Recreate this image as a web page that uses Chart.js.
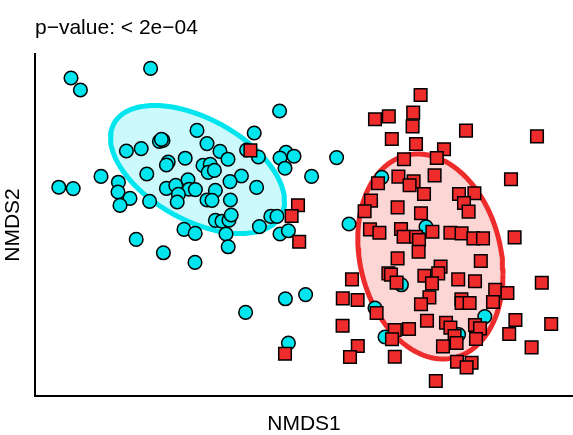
<!DOCTYPE html>
<html>
<head>
<meta charset="utf-8">
<script src="https://cdn.jsdelivr.net/npm/chart.js@4/dist/chart.umd.min.js"></script>
<style>
html,body{margin:0;padding:0;background:#fff;}
#wrap{width:573px;height:435px;position:relative;}
</style>
</head>
<body>
<div id="wrap"><canvas id="c" width="573" height="435"></canvas></div>
<script>
// Group A (cyan circles): NMDS1 values
const cyanX = [-1.145,-1.098,-0.747,-0.102,-0.515,-0.229,-0.703,-0.685,-0.693,-0.465,-0.868,-0.794,-0.400,-0.360,-0.267,-0.208,-0.070,-0.030,-0.100,-0.075,0.183,-0.574,-0.659,-0.668,-0.485,-0.449,-0.459,-0.428,-0.995,-0.766,-0.293,0.058,-0.350,-1.206,-1.134,-0.908,-0.910,-0.850,-0.900,-0.752,-0.668,-0.621,-0.560,-0.554,-0.523,-0.608,-0.614,-0.423,-0.465,-0.440,-0.348,-0.217,-0.423,-0.390,-0.355,-0.344,-0.146,-0.115,-0.203,-0.580,-0.524,-0.370,-0.359,-0.100,-0.058,-0.819,-0.683,-0.525,0.245,0.409,0.630,0.507,-0.073,0.028,-0.272,-0.058,0.375,0.425,0.793,0.924];
// Group A (cyan circles): NMDS2 values
const cyanY = [0.735,0.675,0.783,0.570,0.473,0.460,0.418,0.423,0.428,0.407,0.370,0.382,0.368,0.329,0.375,0.340,0.363,0.344,0.335,0.284,0.337,0.334,0.315,0.300,0.298,0.303,0.263,0.273,0.243,0.255,0.245,0.243,0.217,0.189,0.182,0.214,0.165,0.133,0.098,0.118,0.183,0.198,0.226,0.179,0.177,0.153,0.115,0.173,0.125,0.123,0.125,0.188,0.023,0.019,0.024,0.050,0.043,0.043,-0.008,-0.022,-0.042,-0.045,-0.109,-0.045,-0.029,-0.072,-0.139,-0.187,0.005,0.238,-0.009,-0.299,-0.369,-0.348,-0.437,-0.590,-0.415,-0.560,-0.548,-0.458];
// Group B (red squares): NMDS1 values
const redX = [0.603,0.375,0.444,0.566,0.563,0.830,1.185,0.459,0.580,0.720,0.520,0.684,-0.248,0.492,0.568,0.673,0.548,0.390,0.620,1.055,0.795,0.872,0.820,0.843,0.355,0.323,0.488,0.605,-0.010,-0.042,-0.004,0.350,0.397,0.505,0.518,0.580,0.595,0.662,0.752,0.808,0.867,0.915,1.073,0.593,0.488,0.904,0.703,0.691,0.622,0.442,0.455,0.483,0.660,0.791,0.875,0.260,1.209,0.976,1.037,0.647,0.605,0.807,0.808,0.848,0.965,0.214,0.288,0.383,0.635,0.730,0.752,0.773,0.783,0.875,0.900,0.880,1.077,1.256,0.213,0.474,0.545,0.460,1.046,0.715,0.289,0.250,0.474,1.158,-0.075,0.785,0.858,0.833,0.679];
// Group B (red squares): NMDS2 values
const redY = [0.650,0.529,0.543,0.562,0.493,0.472,0.443,0.430,0.405,0.379,0.329,0.335,0.373,0.242,0.218,0.248,0.199,0.209,0.155,0.229,0.155,0.159,0.110,0.067,0.122,0.069,0.088,0.059,0.099,0.045,-0.084,-0.022,-0.039,-0.020,-0.059,-0.059,-0.075,-0.034,-0.039,-0.042,-0.067,-0.067,-0.062,-0.134,-0.167,-0.180,-0.208,-0.242,-0.254,-0.242,-0.248,-0.288,-0.292,-0.272,-0.281,-0.272,-0.289,-0.324,-0.340,-0.362,-0.396,-0.372,-0.390,-0.390,-0.385,-0.367,-0.375,-0.440,-0.479,-0.489,-0.513,-0.555,-0.590,-0.500,-0.517,-0.570,-0.475,-0.495,-0.504,-0.525,-0.520,-0.571,-0.545,-0.607,-0.605,-0.660,-0.659,-0.612,-0.644,-0.684,-0.689,-0.712,-0.780];
// Confidence ellipses: centre [NMDS1, NMDS2] and covariance [sxx, sxy, syy]
const cyanEllipseCenter = [-0.5125, 0.2775];
const cyanEllipseCov = [0.1892, -0.06875, 0.1024];
const redEllipseCenter = [0.652, -0.1575];
const redEllipseCov = [0.1318, -0.0325, 0.2627];
// Axis ranges
const xRange = [-1.325, 1.365];
const yRange = [-0.855, 0.855];
const titleText = 'p\u2212value: < 2e\u221204';
const xTitle = 'NMDS1';
const yTitle = 'NMDS2';

function toPoints(xs, ys) { return xs.map((x, i) => ({x: x, y: ys[i]})); }
function ellipsePoints(center, cov, n) {
  const sxx = cov[0], sxy = cov[1], syy = cov[2];
  const l11 = Math.sqrt(sxx), l21 = sxy / l11, l22 = Math.sqrt(syy - l21 * l21);
  const pts = [];
  for (let i = 0; i <= n; i++) {
    const t = 2 * Math.PI * i / n, c = Math.cos(t), s = Math.sin(t);
    pts.push({x: center[0] + l11 * c, y: center[1] + l21 * c + l22 * s});
  }
  return pts;
}

const CYAN = '#00E5EE';
const RED = '#EE2C2C';
const FONT = '"Liberation Sans", Arial, Helvetica, sans-serif';

new Chart(document.getElementById('c'), {
  type: 'scatter',
  data: {
    datasets: [
      {
        label: 'B', data: toPoints(redX, redY), order: 0,
        pointStyle: 'rect', pointRadius: 8.9, pointHoverRadius: 8.9,
        backgroundColor: RED, borderColor: '#000', borderWidth: 1.5
      },
      {
        label: 'A', data: toPoints(cyanX, cyanY), order: 1,
        pointStyle: 'circle', pointRadius: 6.8, pointHoverRadius: 6.8,
        backgroundColor: CYAN, borderColor: '#000', borderWidth: 1.5
      },
      {
        label: 'ellB', data: ellipsePoints(redEllipseCenter, redEllipseCov, 120), order: 2,
        showLine: true, pointRadius: 0, borderColor: RED, borderWidth: 5, tension: 0,
        fill: 'shape', backgroundColor: 'rgba(238,44,44,0.2)', borderJoinStyle: 'round'
      },
      {
        label: 'ellA', data: ellipsePoints(cyanEllipseCenter, cyanEllipseCov, 120), order: 3,
        showLine: true, pointRadius: 0, borderColor: CYAN, borderWidth: 5, tension: 0,
        fill: 'shape', backgroundColor: 'rgba(0,229,238,0.2)', borderJoinStyle: 'round'
      }
    ]
  },
  options: {
    responsive: false,
    animation: false,
    events: [],
    layout: {padding: 0, autoPadding: false},
    plugins: {
      legend: {display: false},
      tooltip: {enabled: false},
      title: {
        display: true, text: titleText, align: 'start', fullSize: false,
        color: '#000', font: {family: FONT, size: 21, weight: 'normal', lineHeight: 1.2},
        padding: {top: 15.6, bottom: 13.2}
      }
    },
    scales: {
      x: {
        type: 'linear', min: xRange[0], max: xRange[1],
        grid: {display: false},
        border: {display: true, color: '#000', width: 2},
        ticks: {display: false},
        title: {display: true, text: xTitle, color: '#000', padding: {top: 0, bottom: 0},
          font: {family: FONT, size: 21, lineHeight: 1}},
        afterFit: (s) => { s.height = 39; }
      },
      y: {
        type: 'linear', min: yRange[0], max: yRange[1],
        grid: {display: false},
        border: {display: true, color: '#000', width: 2},
        ticks: {display: false},
        title: {display: true, text: yTitle, color: '#000', padding: {top: 3, bottom: 0},
          font: {family: FONT, size: 21, lineHeight: 1}},
        afterFit: (s) => { s.width = 35; }
      }
    }
  }
});
</script>
</body>
</html>
